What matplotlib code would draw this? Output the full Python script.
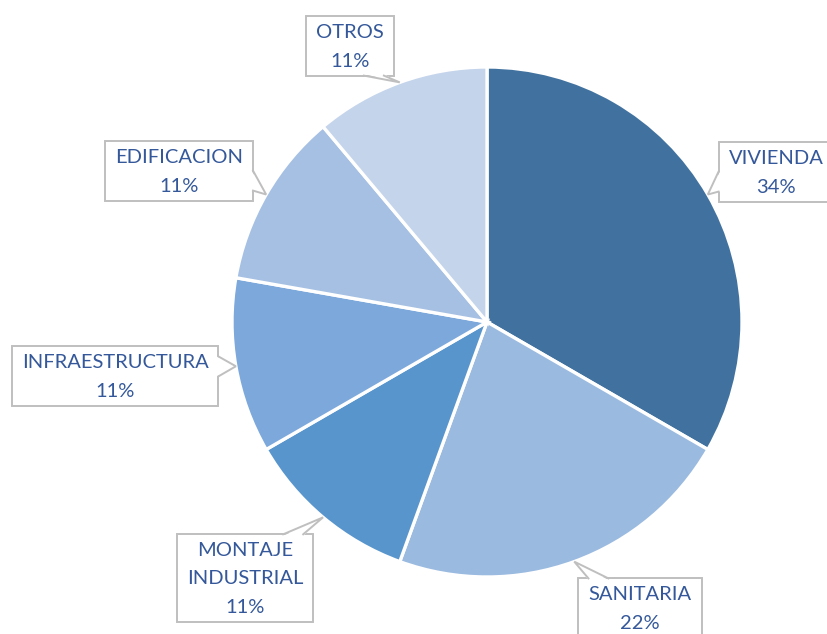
import numpy as np
import matplotlib
matplotlib.use("Agg")
import matplotlib.pyplot as plt
from matplotlib.patches import Rectangle, Polygon

categories = ["VIVIENDA", "SANITARIA", "MONTAJE\nINDUSTRIAL", "INFRAESTRUCTURA", "EDIFICACION", "OTROS"]
shares = [3, 2, 1, 1, 1, 1]
pct_labels = ["34%", "22%", "11%", "11%", "11%", "11%"]
colors = ["#41729F", "#9ABAE0", "#5895CD", "#7CA8DB", "#A5C0E3", "#C4D4EB"]

W, H = 827, 634
fig = plt.figure(figsize=(W / 100, H / 100), dpi=100)
ax = fig.add_axes([0, 0, 1, 1])

cx, cy, R = 487, H - 322, 255
wedges, _ = ax.pie(shares, colors=colors, startangle=90, counterclock=False,
                   center=(cx, cy), radius=R, frame=True,
                   wedgeprops=dict(edgecolor="white", linewidth=2.4))
ax.set_xlim(0, W)
ax.set_ylim(0, H)
ax.set_aspect("equal")
ax.axis("off")

# label text centres (pixels from top-left)
label_pos = [(776, 173), (640, 609), (245, 579), (115, 377), (179, 172), (350, 47)]
text_color = "#34589A"
edge_col = "#BFBFBF"

texts = []
tips = []
for w, cat, pct, (lx, ly) in zip(wedges, categories, pct_labels, label_pos):
    mid = np.deg2rad((w.theta1 + w.theta2) / 2)
    tips.append((cx + R * np.cos(mid), cy + R * np.sin(mid)))
    t = ax.text(lx, H - ly, f"{cat}\n{pct}", ha="center", va="center",
                fontsize=14.5, family="Lato", color=text_color,
                linespacing=1.8, zorder=6)
    texts.append(t)

fig.canvas.draw()
renderer = fig.canvas.get_renderer()
inv = ax.transData.inverted()
padx, pady_top, pady_bot = 10, 8, 6
half = 10
margin = 10
for t, (tx, ty) in zip(texts, tips):
    bb = t.get_window_extent(renderer)
    (x0, y0), (x1, y1) = inv.transform([(bb.x0, bb.y0), (bb.x1, bb.y1)])
    x0 -= padx; x1 += padx; y0 -= pady_bot; y1 += pady_top
    ax.add_patch(Rectangle((x0, y0), x1 - x0, y1 - y0, fc="white", ec=edge_col,
                           lw=1.4, zorder=3))
    qx, qy = min(max(tx, x0), x1), min(max(ty, y0), y1)
    dx = 0 if x0 <= tx <= x1 else (tx - qx)
    dy = 0 if y0 <= ty <= y1 else (ty - qy)
    if abs(dy) >= abs(dx):  # top/bottom edge
        c = min(max(qx, x0 + half + margin), x1 - half - margin)
        b1, b2 = (c - half, qy), (c + half, qy)
        inset = (0, -1.5 if dy > 0 else 1.5)
    else:  # left/right edge
        c = min(max(qy, y0 + half + margin), y1 - half - margin)
        b1, b2 = (qx, c - half), (qx, c + half)
        inset = (-1.5 if dx > 0 else 1.5, 0)
    b1i = (b1[0] + inset[0], b1[1] + inset[1])
    b2i = (b2[0] + inset[0], b2[1] + inset[1])
    ax.add_patch(Polygon([b1i, (tx, ty), b2i], closed=True, fc="white", ec="none", zorder=4))
    ax.plot([b1[0], tx, b2[0]], [b1[1], ty, b2[1]], color=edge_col, lw=1.4, zorder=5,
            solid_joinstyle="miter")

fig.savefig("out.png", dpi=100)
